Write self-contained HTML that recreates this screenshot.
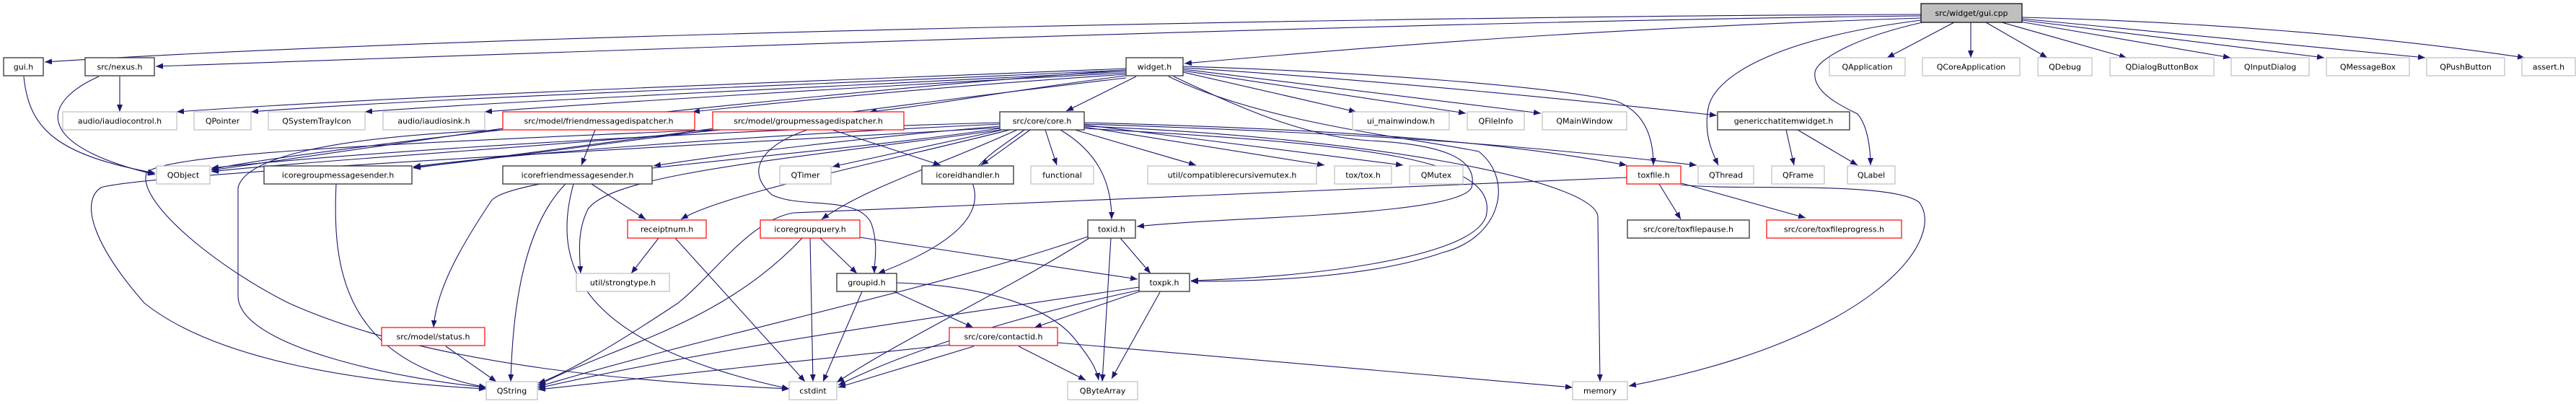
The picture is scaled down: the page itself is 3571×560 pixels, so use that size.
<!DOCTYPE html>
<html><head><meta charset="utf-8"><style>
html,body{margin:0;padding:0;background:#fff;width:3571px;height:560px;overflow:hidden}
svg{display:block}
text{font-family:"DejaVu Sans","Liberation Sans",sans-serif;font-size:11px;fill:#000}
.e{fill:none;stroke:#191970;stroke-width:1.1;marker-end:url(#a)}
.g{fill:#fff;stroke:#bfbfbf;stroke-width:1.2}
.b{fill:#fff;stroke:#404040;stroke-width:1.4}
.r{fill:#fff;stroke:#ff0000;stroke-width:1.2}
</style></head><body>
<svg width="3571" height="560" viewBox="0 0 3571 560" xmlns="http://www.w3.org/2000/svg">
<defs><marker id="a" markerUnits="userSpaceOnUse" markerWidth="11" markerHeight="8" refX="10" refY="4" orient="auto"><path d="M0,0 L10,4 L0,8 z" fill="#191970"/></marker></defs>
<g>
<path class="e" d="M2663,20 C2000,22 700,45 62,86"/>
<path class="e" d="M2663,22 C2000,28 700,75 216,92"/>
<path class="e" d="M2663,25 C2200,40 1900,65 1642,88"/>
<path class="e" d="M2663,28 C2450,55 2375,110 2368,150 C2362,185 2372,208 2382,229"/>
<path class="e" d="M2665,31 C2580,50 2520,80 2516,100 C2512,130 2560,150 2575,158 C2590,175 2593,210 2593,229"/>
<path class="e" d="M2709,31 L2616,80"/>
<path class="e" d="M2732,31 L2732,80"/>
<path class="e" d="M2753,31 L2838,80"/>
<path class="e" d="M2775,31 L2948,80"/>
<path class="e" d="M2800,30 L3092,80"/>
<path class="e" d="M2803,28 L3222,80"/>
<path class="e" d="M2803,26 L3362,80"/>
<path class="e" d="M2803,24 C3050,30 3300,50 3500,80"/>
<path class="e" d="M33,106 C40,180 80,215 215,240"/>
<path class="e" d="M166,106 L166,155"/>
<path class="e" d="M137,106 C60,140 40,200 215,242"/>
<path class="e" d="M1561,95 C1200,110 600,130 245,155"/>
<path class="e" d="M1561,97 C1200,115 600,135 348,155"/>
<path class="e" d="M1561,99 C1200,118 700,140 506,155"/>
<path class="e" d="M1561,101 C1200,120 800,145 672,155"/>
<path class="e" d="M1561,103 C1300,120 1100,140 960,155"/>
<path class="e" d="M1561,105 C1400,125 1300,145 1205,155"/>
<path class="e" d="M1575,106 L1478,154"/>
<path class="e" d="M1640,100 L1880,155"/>
<path class="e" d="M1640,98 L2032,157"/>
<path class="e" d="M1640,96 L2136,157"/>
<path class="e" d="M1640,94 C1900,110 2200,140 2380,160"/>
<path class="e" d="M1640,92 C1900,100 2150,120 2240,140 C2280,155 2292,190 2292,229"/>
<path class="e" d="M1561,97 C1100,130 400,210 293,235"/>
<path class="e" d="M1561,108 C1200,150 700,220 573,232"/>
<path class="e" d="M1627,106 C1720,150 1810,190 1900,195 C2000,200 2050,220 2040,260 C2020,300 1700,300 1576,314"/>
<path class="e" d="M1620,106 C1750,170 1950,190 2050,210 C2100,250 2080,330 2000,350 C1900,385 1750,390 1651,390"/>
<path class="e" d="M1428,180 L1360,229"/>
<path class="e" d="M1449,180 L1465,229"/>
<path class="e" d="M1470,180 C1520,210 1541,250 1541,304"/>
<path class="e" d="M1490,180 L1658,229"/>
<path class="e" d="M1503,176 L1836,229"/>
<path class="e" d="M1503,173 L1945,229"/>
<path class="e" d="M1503,170 C1900,180 2100,200 2255,229"/>
<path class="e" d="M1503,172 C1900,185 2100,200 2352,229"/>
<path class="e" d="M1503,175 C1900,190 2210,250 2215,300 L2218,529"/>
<path class="e" d="M1503,178 C1900,200 2080,220 2060,300 C2040,360 1800,385 1651,389"/>
<path class="e" d="M1386,170 C1000,180 500,210 293,233"/>
<path class="e" d="M1386,172 C1000,190 700,215 573,231"/>
<path class="e" d="M1386,175 C1200,190 1000,215 906,230"/>
<path class="e" d="M1390,180 L1154,231"/>
<path class="e" d="M1400,180 C1200,230 1000,270 944,304"/>
<path class="e" d="M1388,180 C1100,220 850,240 815,290 C800,320 803,350 805,379"/>
<path class="e" d="M1410,180 C1300,230 1200,260 1139,304"/>
<path class="e" d="M1420,180 C1380,210 1340,230 1350,260 C1360,300 1320,340 1217,379"/>
<path class="e" d="M1386,178 C1100,220 700,240 680,280 C640,340 605,400 601,454"/>
<path class="e" d="M1386,177 C1000,200 200,240 140,260 C110,280 130,340 200,420 C300,500 500,530 674,539"/>
<path class="e" d="M825,180 L806,229"/>
<path class="e" d="M697,178 L293,236"/>
<path class="e" d="M697,180 C450,190 340,220 330,260 L330,410 C330,480 550,525 674,537"/>
<path class="e" d="M1154,180 L1304,229"/>
<path class="e" d="M1000,180 C800,200 400,225 293,238"/>
<path class="e" d="M990,178 L573,233"/>
<path class="e" d="M1119,180 C1060,200 1030,235 1070,270 C1110,290 1190,270 1208,310 C1218,340 1212,360 1212,379"/>
<path class="e" d="M988,180 C500,200 220,215 203,240 C190,280 300,370 400,420 C600,510 900,530 1094,539"/>
<path class="e" d="M466,255 C460,380 480,500 674,537"/>
<path class="e" d="M820,255 L895,304"/>
<path class="e" d="M784,255 C720,320 710,450 708,529"/>
<path class="e" d="M795,255 C760,380 820,480 1094,539"/>
<path class="e" d="M913,330 L875,379"/>
<path class="e" d="M936,330 L1116,529"/>
<path class="e" d="M1137,330 L1188,379"/>
<path class="e" d="M1123,330 L1127,529"/>
<path class="e" d="M1112,330 C1000,450 850,480 746,534"/>
<path class="e" d="M1192,329 L1577,387"/>
<path class="e" d="M1195,404 L1141,529"/>
<path class="e" d="M1243,392 C1350,395 1450,420 1490,470 C1510,495 1520,510 1523,527"/>
<path class="e" d="M1239,404 L1349,454"/>
<path class="e" d="M1540,330 L1528,529"/>
<path class="e" d="M1553,330 L1595,379"/>
<path class="e" d="M1508,328 C1300,400 1000,460 746,536"/>
<path class="e" d="M1510,330 C1400,400 1250,470 1160,530"/>
<path class="e" d="M1580,404 L1434,454"/>
<path class="e" d="M1608,405 L1541,525"/>
<path class="e" d="M1579,398 C1300,440 1000,480 746,538"/>
<path class="e" d="M1580,402 C1400,440 1250,490 1162,534"/>
<path class="e" d="M1316,478 L746,540"/>
<path class="e" d="M1350,480 L1162,537"/>
<path class="e" d="M1412,480 L1505,527"/>
<path class="e" d="M1466,475 L2180,537"/>
<path class="e" d="M618,480 L688,529"/>
<path class="e" d="M2476,180 L2487,229"/>
<path class="e" d="M2492,180 L2575,229"/>
<path class="e" d="M2300,255 L2330,304"/>
<path class="e" d="M2331,254 L2503,302"/>
<path class="e" d="M2330,256 C2400,265 2620,250 2660,280 C2700,330 2600,470 2258,535"/>
<path class="e" d="M2255,246 C1900,260 1500,280 1100,295 C1040,305 990,380 940,420 C850,480 780,520 746,531"/>
</g>
<g>
<rect x="2663" y="5" width="140" height="26" fill="#bfbfbf" stroke="#000" stroke-width="1.2"/><text x="2733" y="22" text-anchor="middle">src/widget/gui.cpp</text>

<rect class="b" x="5" y="80" width="55" height="25"/><text x="32.5" y="96.5" text-anchor="middle">gui.h</text>
<rect class="b" x="118" y="80" width="96" height="25"/><text x="166" y="96.5" text-anchor="middle">src/nexus.h</text>
<rect class="b" x="1561" y="80" width="79" height="25"/><text x="1600.5" y="96.5" text-anchor="middle">widget.h</text>
<rect class="g" x="2536" y="80" width="105" height="25"/><text x="2588.5" y="96.5" text-anchor="middle">QApplication</text>
<rect class="g" x="2665" y="80" width="135" height="25"/><text x="2732.5" y="96.5" text-anchor="middle">QCoreApplication</text>
<rect class="g" x="2825" y="80" width="75" height="25"/><text x="2862.5" y="96.5" text-anchor="middle">QDebug</text>
<rect class="g" x="2925" y="80" width="144" height="25"/><text x="2997" y="96.5" text-anchor="middle">QDialogButtonBox</text>
<rect class="g" x="3093" y="80" width="108" height="25"/><text x="3147" y="96.5" text-anchor="middle">QInputDialog</text>
<rect class="g" x="3225" y="80" width="115" height="25"/><text x="3282.5" y="96.5" text-anchor="middle">QMessageBox</text>
<rect class="g" x="3364" y="80" width="108" height="25"/><text x="3418" y="96.5" text-anchor="middle">QPushButton</text>
<rect class="g" x="3496" y="80" width="74" height="25"/><text x="3533" y="96.5" text-anchor="middle">assert.h</text>

<rect class="g" x="87" y="155" width="158" height="25"/><text x="166" y="171.5" text-anchor="middle">audio/iaudiocontrol.h</text>
<rect class="g" x="269" y="155" width="79" height="25"/><text x="308.5" y="171.5" text-anchor="middle">QPointer</text>
<rect class="g" x="372" y="155" width="134" height="25"/><text x="439" y="171.5" text-anchor="middle">QSystemTrayIcon</text>
<rect class="g" x="531" y="155" width="141" height="25"/><text x="601.5" y="171.5" text-anchor="middle">audio/iaudiosink.h</text>
<rect class="r" x="697" y="155" width="266" height="25"/><text x="830" y="171.5" text-anchor="middle">src/model/friendmessagedispatcher.h</text>
<rect class="r" x="988" y="155" width="265" height="25"/><text x="1120.5" y="171.5" text-anchor="middle">src/model/groupmessagedispatcher.h</text>
<rect class="b" x="1386" y="155" width="117" height="25"/><text x="1444.5" y="171.5" text-anchor="middle">src/core/core.h</text>
<rect class="g" x="1875" y="155" width="134" height="25"/><text x="1942" y="171.5" text-anchor="middle">ui_mainwindow.h</text>
<rect class="g" x="2034" y="155" width="79" height="25"/><text x="2073.5" y="171.5" text-anchor="middle">QFileInfo</text>
<rect class="g" x="2138" y="155" width="117" height="25"/><text x="2196.5" y="171.5" text-anchor="middle">QMainWindow</text>
<rect class="b" x="2381" y="155" width="183" height="25"/><text x="2472.5" y="171.5" text-anchor="middle">genericchatitemwidget.h</text>

<rect class="g" x="217" y="230" width="74" height="25"/><text x="254" y="246.5" text-anchor="middle">QObject</text>
<rect class="b" x="366" y="230" width="205" height="25"/><text x="468.5" y="246.5" text-anchor="middle">icoregroupmessagesender.h</text>
<rect class="b" x="697" y="230" width="207" height="25"/><text x="800.5" y="246.5" text-anchor="middle">icorefriendmessagesender.h</text>
<rect class="g" x="1081" y="230" width="71" height="25"/><text x="1116.5" y="246.5" text-anchor="middle">QTimer</text>
<rect class="b" x="1278" y="230" width="127" height="25"/><text x="1341.5" y="246.5" text-anchor="middle">icoreidhandler.h</text>
<rect class="g" x="1429" y="230" width="87" height="25"/><text x="1472.5" y="246.5" text-anchor="middle">functional</text>
<rect class="g" x="1591" y="230" width="234" height="25"/><text x="1708" y="246.5" text-anchor="middle">util/compatiblerecursivemutex.h</text>
<rect class="g" x="1850" y="230" width="79" height="25"/><text x="1889.5" y="246.5" text-anchor="middle">tox/tox.h</text>
<rect class="g" x="1954" y="230" width="74" height="25"/><text x="1991" y="246.5" text-anchor="middle">QMutex</text>
<rect class="r" x="2255" y="230" width="75" height="25"/><text x="2292.5" y="246.5" text-anchor="middle">toxfile.h</text>
<rect class="g" x="2354" y="230" width="77" height="25"/><text x="2392.5" y="246.5" text-anchor="middle">QThread</text>
<rect class="g" x="2456" y="230" width="73" height="25"/><text x="2492.5" y="246.5" text-anchor="middle">QFrame</text>
<rect class="g" x="2561" y="230" width="66" height="25"/><text x="2594" y="246.5" text-anchor="middle">QLabel</text>

<rect class="r" x="870" y="305" width="109" height="25"/><text x="924.5" y="321.5" text-anchor="middle">receiptnum.h</text>
<rect class="r" x="1054" y="305" width="138" height="25"/><text x="1123" y="321.5" text-anchor="middle">icoregroupquery.h</text>
<rect class="b" x="1508" y="305" width="66" height="25"/><text x="1541" y="321.5" text-anchor="middle">toxid.h</text>
<rect class="b" x="2256" y="305" width="169" height="25"/><text x="2340.5" y="321.5" text-anchor="middle">src/core/toxfilepause.h</text>
<rect class="r" x="2449" y="305" width="187" height="25"/><text x="2542.5" y="321.5" text-anchor="middle">src/core/toxfileprogress.h</text>

<rect class="g" x="799" y="379" width="129" height="25"/><text x="863.5" y="395.5" text-anchor="middle">util/strongtype.h</text>
<rect class="b" x="1160" y="379" width="83" height="25"/><text x="1201.5" y="395.5" text-anchor="middle">groupid.h</text>
<rect class="b" x="1579" y="379" width="70" height="25"/><text x="1614" y="395.5" text-anchor="middle">toxpk.h</text>

<rect class="r" x="529" y="454" width="143" height="25"/><text x="600.5" y="470.5" text-anchor="middle">src/model/status.h</text>
<rect class="r" x="1316" y="454" width="150" height="25"/><text x="1391" y="470.5" text-anchor="middle">src/core/contactid.h</text>

<rect class="g" x="674" y="529" width="71" height="25"/><text x="709.5" y="545.5" text-anchor="middle">QString</text>
<rect class="g" x="1094" y="529" width="66" height="25"/><text x="1127" y="545.5" text-anchor="middle">cstdint</text>
<rect class="g" x="1480" y="529" width="97" height="25"/><text x="1528.5" y="545.5" text-anchor="middle">QByteArray</text>
<rect class="g" x="2180" y="529" width="76" height="25"/><text x="2218" y="545.5" text-anchor="middle">memory</text>
</g>
</svg>
</body></html>
